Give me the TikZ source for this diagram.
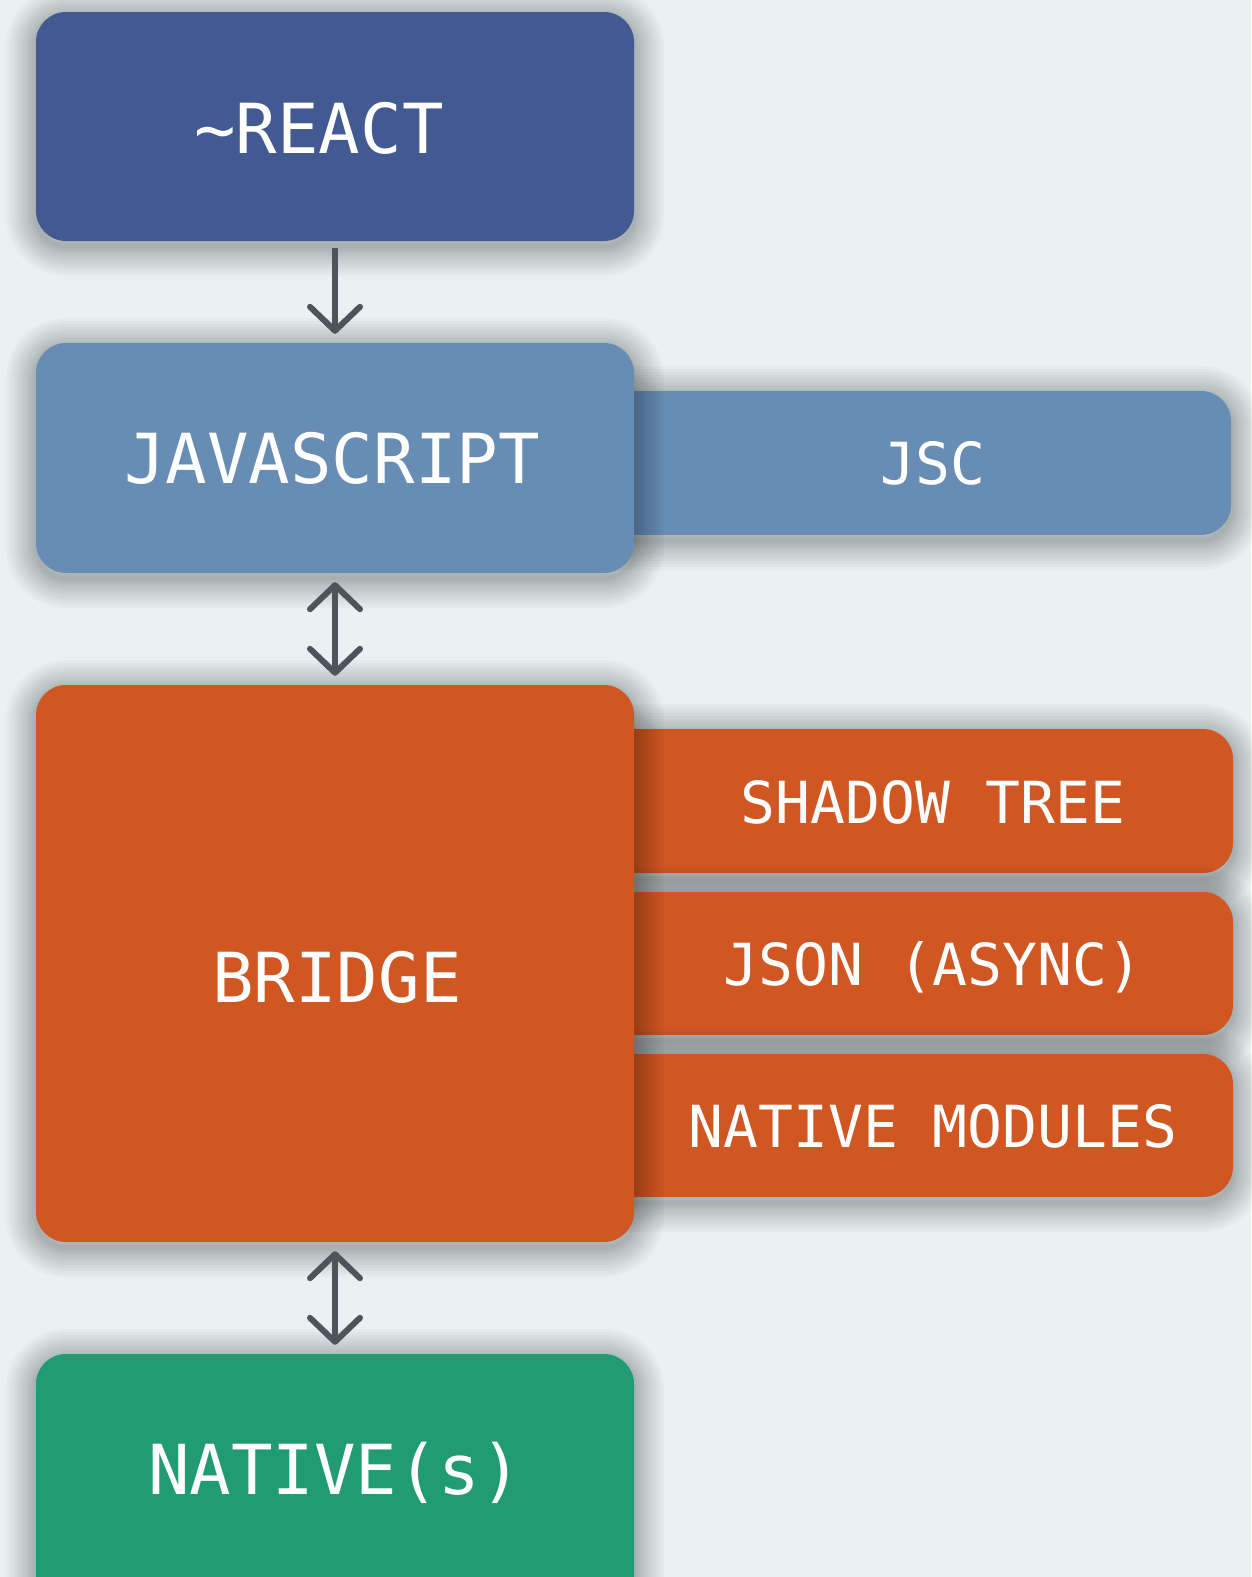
\documentclass[tikz,border=0pt]{standalone}
\usepackage{fontspec}
\setmonofont{DejaVu Sans Mono}
\usetikzlibrary{arrows.meta}
\definecolor{bgcol}{HTML}{E9F1F3}
\definecolor{reactcol}{HTML}{425A91}
\definecolor{jscol}{HTML}{688DB4}
\definecolor{bridgecol}{HTML}{D05622}
\definecolor{nativecol}{HTML}{209B72}
\definecolor{arrowcol}{HTML}{4F545C}
\tikzset{
SHADOWSTEP/.style={preaction={draw=black, draw opacity=0.022, line width=#1,
	transform canvas={yshift=-5pt}}},
SHADOW/.style={SHADOWSTEP=60pt, SHADOWSTEP=54pt, SHADOWSTEP=48pt, SHADOWSTEP=42pt,
	SHADOWSTEP=36pt, SHADOWSTEP=31pt, SHADOWSTEP=26pt, SHADOWSTEP=21pt,
	SHADOWSTEP=16pt, SHADOWSTEP=12pt, SHADOWSTEP=8pt, SHADOWSTEP=4pt},
BOX/.style={fill=#1, draw=none, SHADOW, rounded corners=30pt, minimum width=598pt},
LABEL/.style={text=white, font=\ttfamily\fontsize{69}{80}\selectfont, text height=50pt, text depth=0pt},
SIDE/.style={fill=#1, draw=none, SHADOW, rounded corners=30pt},
SIDETXT/.style={text=white, font=\ttfamily\fontsize{58}{68}\selectfont, text height=42pt, text depth=0pt},
ARROW/.style={draw=arrowcol, line width=6pt, shorten <=7pt, shorten >=9pt,
	-{Straight Barb[length=24pt,width=50pt,round]}},
ARROWS/.style={ARROW, shorten <=9pt,
	{Straight Barb[length=24pt,width=50pt,round]}-{Straight Barb[length=24pt,width=50pt,round]}},
}
\begin{document}
\begin{tikzpicture}[x=1pt,y=-1pt]
	\useasboundingbox[fill=bgcol] (0,0) rectangle (1251,1577);
	%Side boxes
	\path[SIDE=jscol] (560,391) rectangle (1231,535);
	\path[SIDE=bridgecol] (560,729) rectangle (1233,873);
	\path[SIDE=bridgecol] (560,892) rectangle (1233,1035);
	\path[SIDE=bridgecol] (560,1054) rectangle (1233,1197);
	\node[SIDETXT] (jsc) at (933,463) {JSC};
	\node[SIDETXT] (shadowtree) at (933,802) {SHADOW TREE};
	\node[SIDETXT] (jsonasync) at (933,964) {JSON (ASYNC)};
	\node[SIDETXT] (nativemodules) at (933,1126) {NATIVE MODULES};
	%Main column
	\node[BOX=reactcol, minimum height=229pt] (react) at (335,126.5) {};
	\node[BOX=jscol, minimum height=230pt] (js) at (335,458) {};
	\node[BOX=bridgecol, minimum height=557pt] (bridge) at (335,963.5) {};
	\node[BOX=nativecol, minimum height=286pt] (native) at (335,1497) {};
	\node[LABEL] (reactlabel) at (319,128) {\char`\~REACT};
	\node[LABEL] (jslabel) at (332,458) {JAVASCRIPT};
	\node[LABEL] (bridgelabel) at (337,977) {BRIDGE};
	\node[LABEL] (nativelabel) at (335,1469) {NATIVE(s)};
	%Arrows
	\draw[ARROW] (react) -- (js);
	\draw[ARROWS] (js) -- (bridge);
	\draw[ARROWS] (bridge) -- (native);
\end{tikzpicture}
\end{document}
